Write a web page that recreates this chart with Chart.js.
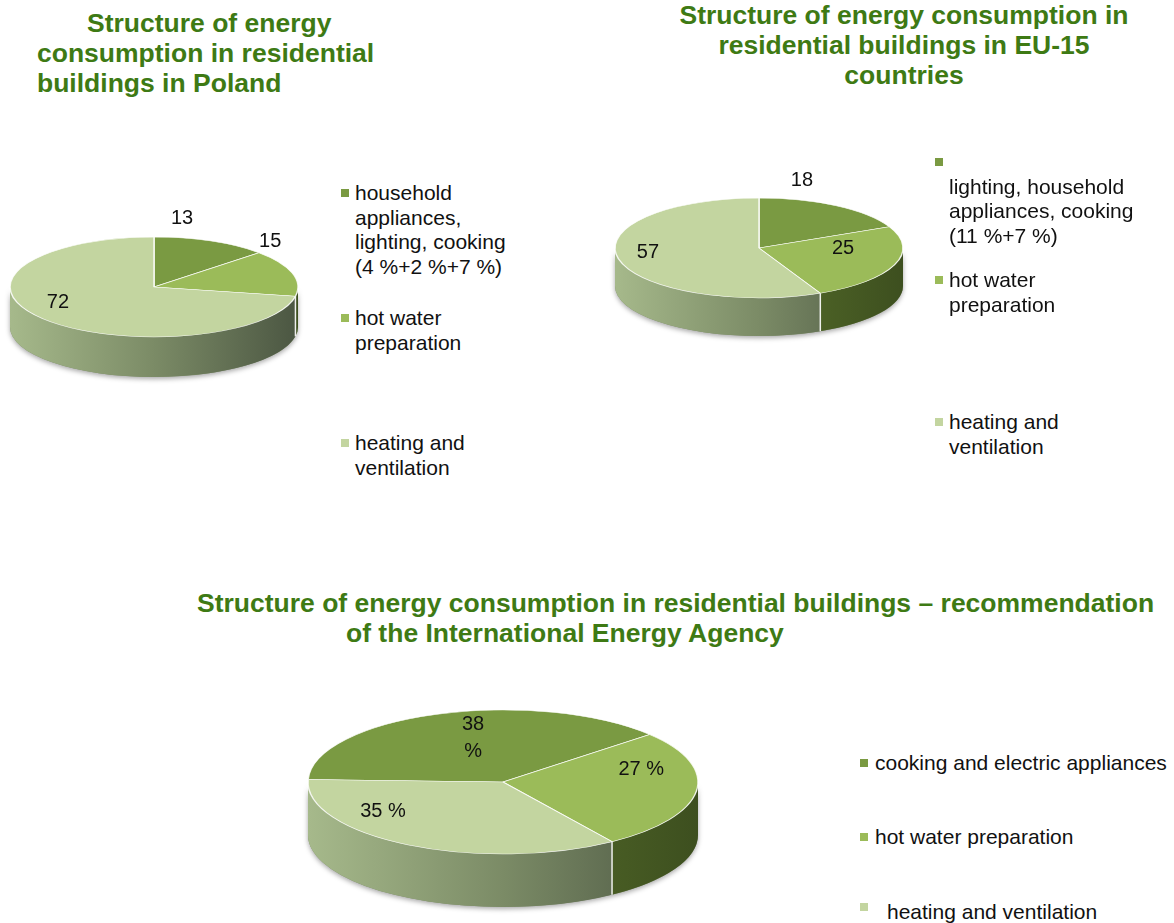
<!DOCTYPE html>
<html>
<head>
<meta charset="utf-8">
<script src="https://cdn.jsdelivr.net/npm/chart.js@4.4.1/dist/chart.umd.min.js"></script>
<style>
body { margin: 0; background: #fff; }
#page { position: relative; width: 1174px; height: 923px; overflow: hidden; font-family: "Liberation Sans", Arial, sans-serif; }
.title { position: absolute; font-weight: bold; font-size: 26.5px; line-height: 30px; color: #3e7a14; white-space: nowrap; }
.leg { position: absolute; font-size: 21px; line-height: 24.5px; color: #111; white-space: pre; }
.sq { position: absolute; width: 8px; height: 8px; }
canvas { position: absolute; }
</style>
</head>
<body>
<div id="page">
  <div class="title" style="left:87px;top:8px">Structure of energy</div>
  <div class="title" style="left:37px;top:38px">consumption in residential</div>
  <div class="title" style="left:37px;top:68px">buildings in Poland</div>

  <div class="title" style="left:604px;top:0px;width:600px;text-align:center">Structure of energy consumption in</div>
  <div class="title" style="left:604px;top:30px;width:600px;text-align:center">residential buildings in EU-15</div>
  <div class="title" style="left:604px;top:60px;width:600px;text-align:center">countries</div>

  <div class="title" style="left:197px;top:588px">Structure of energy consumption in residential buildings – recommendation</div>
  <div class="title" style="left:346px;top:618px">of the International Energy Agency</div>

  <canvas id="poland_chart"></canvas>
  <canvas id="eu_chart"></canvas>
  <canvas id="iea_chart"></canvas>
</div>
<script>
// data
const polandValues = [13, 15, 72];
const euValues = [18, 25, 57];
const ieaValues = [38, 27, 35];

const polandLabels = ['household\nappliances,\nlighting, cooking\n(4 %+2 %+7 %)', 'hot water\npreparation', 'heating and\nventilation'];
const euLabels = ['\nlighting, household\nappliances, cooking\n(11 %+7 %)', 'hot water\npreparation', 'heating and\nventilation'];
const ieaLabels = ['cooking and electric appliances', 'hot water preparation', 'heating and ventilation'];

const sliceColors = ['#7a9a42', '#9bbb59', '#c3d5a0'];
// side wall gradients (left -> right)
const wallColors = [
    ['#6f8a3a', '#3c4e1c'],
    ['#6d8a34', '#3d4f1f'],
    ['#a6b98b', '#7b8b66', '#4b5642']
];

Chart.defaults.font.family = '"Liberation Sans", Arial, sans-serif';

//=======================================================//
function wallPath(ctx, cx, cy, rx, ry, d, a0, a1) {
    ctx.beginPath();
    ctx.ellipse(cx, cy, rx, ry, 0, a0, a1);
    ctx.ellipse(cx, cy + d, rx, ry, 0, a1, a0, true);
    ctx.closePath();
}

const pie3d = {
    id: 'pie3d',
    beforeDatasetsDraw(chart, args, opts) {
        const ctx = chart.ctx;
        const arcs = chart.getDatasetMeta(0).data;
        const cx = arcs[0].x, cy = arcs[0].y, rx = arcs[0].outerRadius;
        const ry = rx * opts.tilt, d = opts.depth;

        // soft shadow under the front wall
        ctx.save();
        ctx.shadowColor = 'rgba(0,0,0,0.35)';
        ctx.shadowBlur = 5;
        ctx.shadowOffsetY = 2;
        wallPath(ctx, cx, cy, rx, ry, d, 0, Math.PI);
        ctx.fillStyle = '#7b8b66';
        ctx.fill();
        ctx.restore();

        arcs.forEach((arc, i) => {
            for (let n = -1; n <= 1; n++) {
                const lo = Math.max(arc.startAngle, n * 2 * Math.PI);
                const hi = Math.min(arc.endAngle, n * 2 * Math.PI + Math.PI);
                if (hi <= lo) continue;
                const g = ctx.createLinearGradient(cx - rx, 0, cx + rx, 0);
                wallColors[i].forEach((c, j, a) => g.addColorStop(j / (a.length - 1), c));
                wallPath(ctx, cx, cy, rx, ry, d, lo, hi);
                ctx.fillStyle = g;
                ctx.fill();
            }
        });

        // white seams where slices meet on the wall
        ctx.save();
        ctx.strokeStyle = 'rgba(255,255,255,0.9)';
        ctx.lineWidth = 1.5;
        arcs.forEach(arc => {
            const a = arc.startAngle;
            if (Math.sin(a) > 0.02) {
                const x = cx + Math.cos(a) * rx, y = cy + Math.sin(a) * ry;
                ctx.beginPath();
                ctx.moveTo(x, y);
                ctx.lineTo(x, y + d);
                ctx.stroke();
            }
        });
        ctx.restore();

        // squash the top face into an ellipse
        ctx.save();
        ctx.translate(0, cy);
        ctx.scale(1, opts.tilt);
        ctx.translate(0, -cy);
    },
    afterDatasetsDraw(chart) {
        chart.ctx.restore();
    },
    afterDraw(chart, args, opts) {
        const ctx = chart.ctx;
        const arcs = chart.getDatasetMeta(0).data;
        const values = chart.data.datasets[0].data;
        const cx = arcs[0].x, cy = arcs[0].y, rx = arcs[0].outerRadius;
        const ry = rx * opts.tilt;
        ctx.save();
        ctx.font = '20px "Liberation Sans", Arial, sans-serif';
        ctx.fillStyle = '#111';
        ctx.textAlign = 'center';
        ctx.textBaseline = 'middle';
        arcs.forEach((arc, i) => {
            const mid = (arc.startAngle + arc.endAngle) / 2;
            const x = cx + Math.cos(mid) * rx * opts.fx[i];
            const y = cy + Math.sin(mid) * ry * opts.fy[i];
            const lines = opts.format(values[i], i).split('\n');
            lines.forEach((t, k) => {
                ctx.fillText(t, x, y + (k - (lines.length - 1) / 2) * 27);
            });
        });
        ctx.restore();
    }
};

function makePie(id, values, labels, box, lab) {
    const canvas = document.getElementById(id);
    const padL = 40, padT = 80, padB = box.depth + 20;
    canvas.width = 2 * box.rx + 2 * padL;
    canvas.height = 2 * box.ry + padT + padB;
    canvas.style.left = (box.cx - box.rx - padL) + 'px';
    canvas.style.top = (box.cy - box.ry - padT) + 'px';

    return new Chart(canvas.getContext('2d'), {
        type: 'pie',
        data: {
            labels: labels,
            datasets: [{
                data: values,
                backgroundColor: sliceColors,
                borderColor: 'rgba(255,255,255,0.85)',
                borderWidth: 1.5,
                radius: box.rx,
                rotation: box.rotation,
                clip: false
            }]
        },
        options: {
            responsive: false,
            animation: false,
            events: [],
            layout: { padding: { left: padL, right: padL, top: padT, bottom: padB } },
            plugins: {
                legend: { display: false },
                tooltip: { enabled: false },
                pie3d: {
                    tilt: box.ry / box.rx,
                    depth: box.depth,
                    fx: lab.fx,
                    fy: lab.fy,
                    format: lab.format
                }
            }
        },
        plugins: [pie3d]
    });
}

function makeLegend(labels, leg) {
    const page = document.getElementById('page');
    labels.forEach((text, i) => {
        const sq = document.createElement('div');
        sq.className = 'sq';
        sq.style.background = sliceColors[i];
        sq.style.left = leg.sqX + 'px';
        sq.style.top = (leg.y[i] - 4) + 'px';
        page.appendChild(sq);

        const t = document.createElement('div');
        t.className = 'leg';
        t.textContent = text;
        t.style.left = (leg.txX + (leg.dx ? leg.dx[i] : 0)) + 'px';
        t.style.top = (leg.y[i] - 12 + (leg.dy ? leg.dy[i] : 0)) + 'px';
        page.appendChild(t);
    });
}

makePie('poland_chart', polandValues, polandLabels,
    { cx: 154, cy: 287, rx: 144, ry: 50, depth: 40, rotation: 0 },
    { fx: [0.49, 0.84, 0.866], fy: [1.50, 3.23, 0.50], format: v => String(v) });

makePie('eu_chart', euValues, euLabels,
    { cx: 759, cy: 248, rx: 144, ry: 50, depth: 38, rotation: 0 },
    { fx: [0.557, 0.62, 0.79], fy: [1.61, 0.0, 0.37], format: v => String(v) });

makePie('iea_chart', ieaValues, ieaLabels,
    { cx: 503, cy: 782, rx: 195, ry: 72, depth: 53, rotation: -88 },
    { fx: [0.458, 0.715, 1.27], fy: [0.644, -1.31, 0.465], format: (v, i) => i === 0 ? v + '\n%' : v + ' %' });

makeLegend(polandLabels, { sqX: 341, txX: 355, y: [193, 318, 443] });
makeLegend(euLabels, { sqX: 935, txX: 949, y: [162, 280, 422] });
makeLegend(ieaLabels, { sqX: 860, txX: 875, y: [763, 837, 907], dx: [0, 0, 12], dy: [0, 0, 5] });
</script>
</body>
</html>
